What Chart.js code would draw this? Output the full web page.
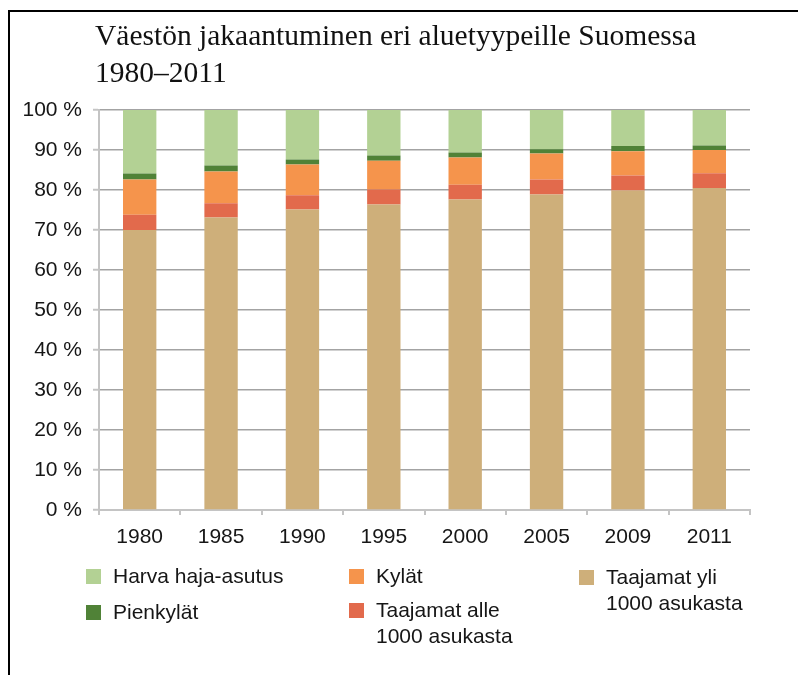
<!DOCTYPE html>
<html>
<head>
<meta charset="utf-8">
<script src="https://cdn.jsdelivr.net/npm/chart.js@4/dist/chart.umd.min.js"></script>
<style>
  html, body { margin: 0; padding: 0; background: #fff; }
  #wrap { position: relative; width: 798px; height: 675px; }
</style>
</head>
<body>
<div id="wrap"><canvas id="c" width="798" height="675"></canvas></div>
<script>
// ---- data ----
const years = ['1980', '1985', '1990', '1995', '2000', '2005', '2009', '2011'];
const taajamatYli  = [70.0, 73.1, 75.1, 76.4, 77.6, 78.9, 79.9, 80.5];
const taajamatAlle = [3.8, 3.6, 3.6, 3.7, 3.7, 3.7, 3.7, 3.7];
const kylat        = [8.8, 7.9, 7.7, 7.2, 6.8, 6.5, 6.1, 5.8];
const pienkylat    = [1.5, 1.5, 1.2, 1.3, 1.3, 1.1, 1.3, 1.1];
const harva        = [15.9, 13.9, 12.4, 11.4, 10.6, 9.8, 9.0, 8.9];
const titleLines = ['Väestön jakaantuminen eri aluetyypeille Suomessa', '1980–2011'];

const seriesNames = ['Taajamat yli 1000 asukasta', 'Taajamat alle 1000 asukasta', 'Kylät', 'Pienkylät', 'Harva haja-asutus'];
const seriesColors = ['#ceaf7a', '#e26a4c', '#f5944c', '#508237', '#b3d194'];

// legend layout: dataset index, box x, box y, text lines
const legendItems = [
  { ds: 4, x: 86,  y: 569, lines: ['Harva haja-asutus'] },
  { ds: 3, x: 86,  y: 605, lines: ['Pienkylät'] },
  { ds: 2, x: 349, y: 569, lines: ['Kylät'] },
  { ds: 1, x: 349, y: 603, lines: ['Taajamat alle', '1000 asukasta'] },
  { ds: 0, x: 579, y: 570, lines: ['Taajamat yli', '1000 asukasta'] }
];

const AXIS = '#c4c4c4';
const GRID = '#a3a3a3';
const TXT = '#161616';
const SANS = 'Liberation Sans, Arial, sans-serif';

const decor = {
  id: 'decor',
  beforeDraw(chart) {
    const ctx = chart.ctx;
    ctx.save();
    ctx.fillStyle = '#fff';
    ctx.fillRect(0, 0, chart.width, chart.height);
    ctx.fillStyle = '#000';
    ctx.fillRect(8, 10, 790, 2);
    ctx.fillRect(8, 10, 2, 665);
    // title
    ctx.fillStyle = '#111';
    ctx.font = '29.5px "Liberation Serif", "Times New Roman", serif';
    ctx.textBaseline = 'alphabetic';
    ctx.textAlign = 'left';
    ctx.fillText(titleLines[0], 95, 45);
    ctx.fillText(titleLines[1], 95, 82);
    ctx.restore();
  },
  afterDraw(chart) {
    const ctx = chart.ctx;
    ctx.save();
    ctx.font = '21px ' + SANS;
    ctx.textBaseline = 'middle';
    ctx.textAlign = 'left';
    legendItems.forEach(it => {
      ctx.fillStyle = chart.data.datasets[it.ds].backgroundColor;
      ctx.fillRect(it.x, it.y, 15, 15);
      ctx.fillStyle = TXT;
      it.lines.forEach((ln, i) => {
        ctx.fillText(ln, it.x + 27, it.y + 8 + i * 26);
      });
    });
    ctx.restore();
  }
};

const datasets = [taajamatYli, taajamatAlle, kylat, pienkylat, harva].map((d, i) => ({
  label: seriesNames[i],
  data: d,
  backgroundColor: seriesColors[i],
  borderWidth: 0,
  categoryPercentage: 1.0,
  barPercentage: 0.41
}));

new Chart(document.getElementById('c'), {
  type: 'bar',
  data: { labels: years, datasets },
  options: {
    responsive: false,
    animation: false,
    devicePixelRatio: 1,
    layout: { padding: { left: 0, right: 48, top: 110, bottom: 0 } },
    plugins: { legend: { display: false }, title: { display: false }, tooltip: { enabled: false } },
    scales: {
      x: {
        stacked: true,
        grid: { drawOnChartArea: false, drawTicks: true, tickLength: 5, color: AXIS, lineWidth: 2, offset: true },
        border: { color: AXIS, width: 2 },
        ticks: { color: TXT, font: { family: SANS, size: 21 }, padding: 10, maxRotation: 0 },
        afterFit(s) { s.height = 165; }
      },
      y: {
        stacked: true,
        min: 0, max: 100,
        grid: { color: GRID, lineWidth: 1.5, tickLength: 6, tickColor: AXIS, tickWidth: 2 },
        border: { color: AXIS, width: 2 },
        ticks: { stepSize: 10, color: TXT, font: { family: SANS, size: 21 }, padding: 11,
                 callback: v => v + ' %' },
        afterFit(s) { s.width = 99; }
      }
    }
  },
  plugins: [decor]
});
</script>
</body>
</html>
